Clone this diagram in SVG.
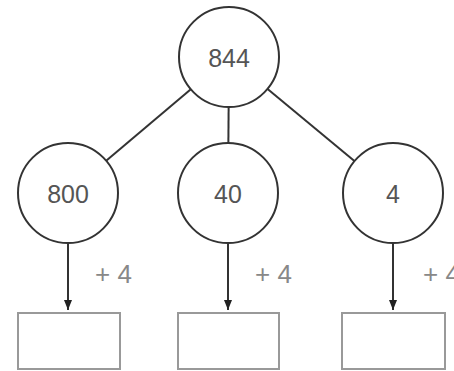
<svg xmlns="http://www.w3.org/2000/svg" width="454" height="371" viewBox="0 0 454 371">
<style>
.edge{stroke:#333;stroke-width:2;fill:none}
.circ{fill:#fff;stroke:#333;stroke-width:2}
.box{fill:#fff;stroke:#999;stroke-width:2}
.num{font-family:"Liberation Sans",Arial,sans-serif;font-size:25px;fill:#555;text-anchor:middle;dominant-baseline:central}
.lbl{font-family:"Liberation Sans",Arial,sans-serif;font-size:26px;fill:#888}
</style>
<defs>
<marker id="ah" viewBox="0 0 10 8" refX="10" refY="4" markerWidth="5" markerHeight="4" orient="auto" markerUnits="strokeWidth">
<path d="M0,0 L10,4 L0,8 Z" fill="#222"/>
</marker>
</defs>
<g id="connectors">
<line class="edge" x1="229" y1="57" x2="68" y2="193"/>
<line class="edge" x1="229" y1="57" x2="228" y2="193"/>
<line class="edge" x1="229" y1="57" x2="393" y2="193"/>
<line class="edge" x1="68" y1="243" x2="68" y2="310" marker-end="url(#ah)"/>
<line class="edge" x1="228" y1="243" x2="228" y2="310" marker-end="url(#ah)"/>
<line class="edge" x1="393" y1="243" x2="393" y2="310" marker-end="url(#ah)"/>
</g>
<g id="n844"><circle class="circ" cx="229" cy="57" r="50"/><text class="num" x="229" y="58">844</text></g>
<g id="n800"><circle class="circ" cx="68" cy="193" r="50"/><text class="num" x="68" y="194">800</text></g>
<g id="n40"><circle class="circ" cx="228" cy="193" r="50"/><text class="num" x="228" y="194">40</text></g>
<g id="n4"><circle class="circ" cx="393" cy="193" r="50"/><text class="num" x="393" y="194">4</text></g>
<g id="l1"><text class="lbl" x="95" y="283">+ 4</text></g>
<g id="l2"><text class="lbl" x="255" y="283">+ 4</text></g>
<g id="l3"><text class="lbl" x="423" y="283">+ 4</text></g>
<g id="b1"><rect class="box" x="18" y="313" width="102" height="56"/></g>
<g id="b2"><rect class="box" x="178" y="313" width="101" height="56"/></g>
<g id="b3"><rect class="box" x="342" y="313" width="103" height="56"/></g>
</svg>
